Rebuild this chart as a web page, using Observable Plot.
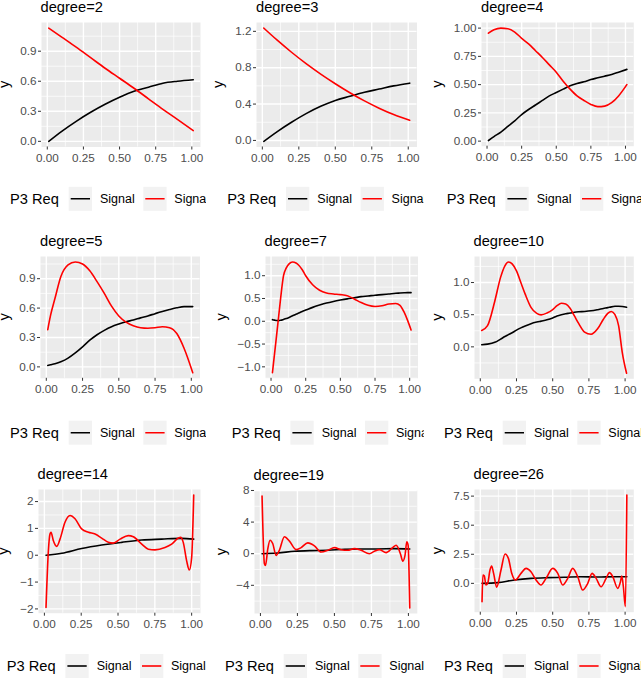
<!DOCTYPE html>
<html><head><meta charset="utf-8">
<script src="https://cdn.jsdelivr.net/npm/d3@7"></script>
<script src="https://cdn.jsdelivr.net/npm/@observablehq/plot@0.6"></script>
<style>
body{margin:0;background:#fff;}
#root{position:relative;width:641px;height:679px;overflow:hidden;background:#fff;font-family:"Liberation Sans",Arial,sans-serif;}
#root svg.plot-panel{position:absolute;}
</style></head>
<body><div id="root"></div>
<script>
// ---------- shared axis data ----------
const xTicks = [0, 0.25, 0.5, 0.75, 1];
const xTickLabels = ["0.00", "0.25", "0.50", "0.75", "1.00"];
const xMinor = [0.125, 0.375, 0.625, 0.875];
const xExtent = [0.01, 1.01];
const legendTitle = "P3 Req";
const seriesNames = ["Signal", "Signal"];
const seriesColors = ["#000000", "#FF0000"];

// ---------- degree = 2 ----------
const x2 = [0.01, 0.1, 0.2, 0.3, 0.4, 0.5, 0.6, 0.7, 0.8, 0.9, 1.01];
const black2 = [0, 0.1, 0.2, 0.29, 0.37, 0.44, 0.5, 0.54, 0.58, 0.6, 0.615];
const red2 = [1.13, 1.04, 0.94, 0.835, 0.73, 0.63, 0.53, 0.425, 0.32, 0.22, 0.107];
const yTicks2 = [0, 0.3, 0.6, 0.9];
const yLabels2 = ["0.0", "0.3", "0.6", "0.9"];
const yMinor2 = [0.15, 0.45, 0.75, 1.05];

// ---------- degree = 3 ----------
const x3 = [0.01, 0.1, 0.2, 0.3, 0.4, 0.5, 0.6, 0.7, 0.8, 0.9, 1.01];
const black3 = [-0.01, 0.095, 0.2, 0.295, 0.375, 0.44, 0.485, 0.53, 0.565, 0.6, 0.63];
const red3 = [1.235, 1.105, 0.97, 0.845, 0.73, 0.624, 0.525, 0.435, 0.355, 0.285, 0.223];
const yTicks3 = [0, 0.4, 0.8, 1.2];
const yLabels3 = ["0.0", "0.4", "0.8", "1.2"];
const yMinor3 = [0.2, 0.6, 1.0];

// ---------- degree = 4 ----------
const x4 = [0.01, 0.05, 0.1, 0.15, 0.2, 0.25, 0.3, 0.35, 0.4, 0.45, 0.5, 0.55, 0.6, 0.65, 0.7, 0.75, 0.8, 0.85, 0.9, 0.95, 1.01];
const black4 = [0.005, 0.04, 0.08, 0.13, 0.18, 0.235, 0.28, 0.32, 0.36, 0.4, 0.43, 0.46, 0.49, 0.51, 0.525, 0.545, 0.56, 0.575, 0.59, 0.61, 0.635];
const red4 = [0.955, 0.985, 1.0, 0.995, 0.965, 0.91, 0.86, 0.8, 0.74, 0.675, 0.61, 0.53, 0.46, 0.4, 0.36, 0.325, 0.305, 0.31, 0.34, 0.4, 0.5];
const yTicks4 = [0, 0.25, 0.5, 0.75, 1];
const yLabels4 = ["0.00", "0.25", "0.50", "0.75", "1.00"];
const yMinor4 = [0.125, 0.375, 0.625, 0.875];

// ---------- degree = 5 ----------
const x5 = [0.01, 0.03, 0.06, 0.1, 0.15, 0.2, 0.25, 0.3, 0.35, 0.4, 0.45, 0.5, 0.55, 0.6, 0.65, 0.7, 0.75, 0.8, 0.85, 0.9, 0.95, 1.01];
const black5 = [0.015, 0.022, 0.033, 0.053, 0.09, 0.143, 0.205, 0.272, 0.328, 0.373, 0.41, 0.437, 0.46, 0.478, 0.5, 0.52, 0.543, 0.565, 0.585, 0.603, 0.615, 0.615];
const red5 = [0.38, 0.53, 0.7, 0.92, 1.04, 1.07, 1.05, 0.98, 0.87, 0.75, 0.62, 0.52, 0.457, 0.42, 0.4, 0.395, 0.4, 0.41, 0.4, 0.34, 0.19, -0.06];
const yTicks5 = [0, 0.3, 0.6, 0.9];
const yLabels5 = ["0.0", "0.3", "0.6", "0.9"];
const yMinor5 = [0.15, 0.45, 0.75, 1.05];

// ---------- degree = 7 ----------
const x7 = [0.01, 0.025, 0.04, 0.055, 0.07, 0.09, 0.11, 0.13, 0.155, 0.18, 0.2, 0.225, 0.25, 0.3, 0.35, 0.4, 0.45, 0.5, 0.55, 0.6, 0.65, 0.7, 0.75, 0.8, 0.85, 0.9, 0.93, 0.96, 0.985, 1.01];
const black7 = [0.036, 0.025, 0.016, 0.015, 0.022, 0.04, 0.06, 0.085, 0.12, 0.155, 0.18, 0.215, 0.245, 0.305, 0.355, 0.4, 0.435, 0.465, 0.492, 0.515, 0.54, 0.555, 0.572, 0.585, 0.6, 0.615, 0.62, 0.625, 0.628, 0.628];
const red7 = [-1.13, -0.72, -0.31, 0.11, 0.53, 1.0, 1.17, 1.26, 1.3, 1.28, 1.23, 1.13, 1.0, 0.8, 0.68, 0.62, 0.6, 0.585, 0.56, 0.49, 0.41, 0.35, 0.325, 0.34, 0.38, 0.39, 0.35, 0.2, 0.02, -0.19];
const yTicks7 = [-1, -0.5, 0, 0.5, 1];
const yLabels7 = ["\u22121.0", "\u22120.5", "0.0", "0.5", "1.0"];
const yMinor7 = [-1.25, -0.75, -0.25, 0.25, 0.75, 1.25];

// ---------- degree = 10 ----------
const x10 = [0.01, 0.05, 0.1, 0.14, 0.17, 0.195, 0.22, 0.25, 0.28, 0.31, 0.35, 0.39, 0.42, 0.46, 0.5, 0.53, 0.56, 0.59, 0.62, 0.65, 0.68, 0.72, 0.765, 0.81, 0.85, 0.88, 0.905, 0.93, 0.955, 0.98, 1.01];
const black10 = [0.033, 0.042, 0.07, 0.12, 0.16, 0.19, 0.22, 0.26, 0.295, 0.325, 0.36, 0.385, 0.4, 0.42, 0.45, 0.48, 0.5, 0.515, 0.525, 0.538, 0.545, 0.55, 0.56, 0.578, 0.597, 0.61, 0.622, 0.63, 0.632, 0.628, 0.615];
const red10 = [0.255, 0.33, 0.71, 1.08, 1.26, 1.318, 1.29, 1.18, 1.0, 0.82, 0.615, 0.52, 0.497, 0.525, 0.58, 0.64, 0.677, 0.665, 0.6, 0.48, 0.36, 0.23, 0.195, 0.28, 0.43, 0.52, 0.55, 0.5, 0.33, -0.08, -0.41];
const yTicks10 = [0, 0.5, 1];
const yLabels10 = ["0.0", "0.5", "1.0"];
const yMinor10 = [-0.25, 0.25, 0.75, 1.25];

// ---------- degree = 14 ----------
const xRed14 = [0.011, 0.027, 0.038, 0.045, 0.061, 0.084, 0.106, 0.14, 0.174, 0.208, 0.253, 0.299, 0.344, 0.389, 0.434, 0.468, 0.514, 0.57, 0.604, 0.661, 0.706, 0.751, 0.819, 0.864, 0.91, 0.925, 0.943, 0.966, 0.984, 1.0, 1.014];
const red14 = [-1.95, 0.16, 0.79, 0.855, 0.54, 0.33, 0.6, 1.23, 1.48, 1.36, 0.98, 0.855, 0.79, 0.64, 0.48, 0.45, 0.6, 0.73, 0.69, 0.415, 0.226, 0.2, 0.29, 0.415, 0.64, 0.667, 0.48, -0.21, -0.55, -0.09, 2.24];
const xBlack14 = [0.011, 0.118, 0.253, 0.389, 0.525, 0.661, 0.796, 0.932, 1.014];
const black14 = [0, 0.075, 0.25, 0.38, 0.48, 0.566, 0.6, 0.63, 0.6];
const yTicks14 = [-2, -1, 0, 1, 2];
const yLabels14 = ["\u22122", "\u22121", "0", "1", "2"];
const yMinor14 = [-1.5, -0.5, 0.5, 1.5];

// ---------- degree = 19 ----------
const xRed19 = [0.011, 0.027, 0.034, 0.05, 0.065, 0.083, 0.106, 0.128, 0.162, 0.196, 0.241, 0.275, 0.32, 0.365, 0.41, 0.455, 0.5, 0.545, 0.59, 0.635, 0.68, 0.736, 0.77, 0.804, 0.849, 0.894, 0.917, 0.946, 0.962, 0.977, 0.989, 0.998, 1.009];
const red19 = [7.29, -1.29, -1.5, 0.64, 1.71, 1.29, -0.21, 0.43, 2.14, 1.59, 0.51, 0.77, 1.37, 0.99, 0.21, 0.43, 0.77, 0.51, 0.43, 0.64, 0.43, 0.0, 0.3, 0.51, 0.13, 0.77, 1.07, 0.0, -0.94, -0.21, 1.5, 1.07, -6.86];
const xBlack19 = [0.011, 0.117, 0.23, 0.342, 0.455, 0.568, 0.68, 0.793, 0.905, 1.009];
const black19 = [0, 0.09, 0.3, 0.39, 0.43, 0.56, 0.6, 0.6, 0.64, 0.6];
const yTicks19 = [-4, 0, 4, 8];
const yLabels19 = ["\u22124", "0", "4", "8"];
const yMinor19 = [-6, -2, 2, 6];

// ---------- degree = 26 ----------
const xRed26 = [0.012, 0.018, 0.028, 0.039, 0.051, 0.067, 0.078, 0.092, 0.113, 0.143, 0.171, 0.194, 0.217, 0.242, 0.281, 0.316, 0.35, 0.385, 0.419, 0.454, 0.5, 0.535, 0.569, 0.604, 0.638, 0.673, 0.707, 0.742, 0.772, 0.8, 0.834, 0.869, 0.892, 0.915, 0.949, 0.968, 0.977, 0.988, 1.002, 1.012];
const red26 = [-1.57, 0.72, 0.63, -0.14, 0.0, 1.15, 1.49, 0.86, -0.33, 1.15, 2.52, 2.15, 0.86, 0.29, 0.86, 1.29, 1.0, 0.29, -0.14, 0.43, 1.29, 0.86, -0.14, 0.43, 1.29, 0.57, -0.57, 0.0, 0.86, 0.43, -0.29, 0.43, 0.92, 0.57, -0.43, 0.14, 0.63, -0.29, -2.0, 7.59];
const xBlack26 = [0.012, 0.12, 0.235, 0.35, 0.465, 0.58, 0.695, 0.81, 0.925, 1.012];
const black26 = [0, 0.06, 0.29, 0.43, 0.49, 0.52, 0.57, 0.54, 0.57, 0.57];
const yTicks26 = [0, 2.5, 5, 7.5];
const yLabels26 = ["0.0", "2.5", "5.0", "7.5"];
const yMinor26 = [-1.25, 1.25, 3.75, 6.25];

// ---------- panel definitions (data) ----------
const panels = [
  {deg: 2,  xb: x2,  black: black2,  xr: x2,  red: red2,  yTicks: yTicks2,  yLabels: yLabels2,  yMinor: yMinor2},
  {deg: 3,  xb: x3,  black: black3,  xr: x3,  red: red3,  yTicks: yTicks3,  yLabels: yLabels3,  yMinor: yMinor3},
  {deg: 4,  xb: x4,  black: black4,  xr: x4,  red: red4,  yTicks: yTicks4,  yLabels: yLabels4,  yMinor: yMinor4},
  {deg: 5,  xb: x5,  black: black5,  xr: x5,  red: red5,  yTicks: yTicks5,  yLabels: yLabels5,  yMinor: yMinor5},
  {deg: 7,  xb: x7,  black: black7,  xr: x7,  red: red7,  yTicks: yTicks7,  yLabels: yLabels7,  yMinor: yMinor7},
  {deg: 10, xb: x10, black: black10, xr: x10, red: red10, yTicks: yTicks10, yLabels: yLabels10, yMinor: yMinor10},
  {deg: 14, xb: xBlack14, black: black14, xr: xRed14, red: red14, yTicks: yTicks14, yLabels: yLabels14, yMinor: yMinor14},
  {deg: 19, xb: xBlack19, black: black19, xr: xRed19, red: red19, yTicks: yTicks19, yLabels: yLabels19, yMinor: yMinor19},
  {deg: 26, xb: xBlack26, black: black26, xr: xRed26, red: red26, yTicks: yTicks26, yLabels: yLabels26, yMinor: yMinor26}
];

// ---------- layout (positions in page pixels) ----------
const layout = [
  {L: 40.5,  R: 199.5, T: 22,    B: 146.5, yt: 7,     lx: 10,    ly: 198.8, clip: [0, 206]},
  {L: 256,   R: 416.5, T: 22,    B: 146.5, yt: 220.8, lx: 227.3, ly: 198.8, clip: [213, 423.8]},
  {L: 481,   R: 633.3, T: 22.3,  B: 146,   yt: 440,   lx: 446.7, ly: 198.8, clip: [427, 641]},
  {L: 40,    R: 199.5, T: 256,   B: 377.8, yt: 7,     lx: 10,    ly: 432.7, clip: [0, 206]},
  {L: 264.5, R: 417,   T: 256,   B: 377.8, yt: 223.3, lx: 231.7, ly: 432.7, clip: [213, 423.8]},
  {L: 473.5, R: 632.8, T: 256,   B: 378.3, yt: 440,   lx: 444,   ly: 432.7, clip: [427, 641]},
  {L: 37.5,  R: 199.5, T: 489.3, B: 613,   yt: 6,     lx: 6.7,   ly: 666,   clip: [0, 208]},
  {L: 253.5, R: 416.3, T: 490,   B: 613,   yt: 223.3, lx: 225,   ly: 666,   clip: [213, 425]},
  {L: 473.5, R: 632.8, T: 489.3, B: 612,   yt: 440,   lx: 444,   ly: 666,   clip: [427, 641]}
];

const FONT = "'Liberation Sans', Arial, Helvetica, sans-serif";
const root = document.getElementById("root");
const xDomain = [xExtent[0] - 0.05 * (xExtent[1] - xExtent[0]), xExtent[1] + 0.05 * (xExtent[1] - xExtent[0])];
const xLabMap = new Map(xTicks.map((t, i) => [t, xTickLabels[i]]));

panels.forEach((p, i) => {
  const g = layout[i];
  const mL = 46, mR = 8, mT = 4, mB = 26;
  const w = g.R - g.L, h = g.B - g.T;
  const all = p.black.concat(p.red);
  const lo = d3.min(all), hi = d3.max(all), pad = 0.05 * (hi - lo);
  const yDomain = [lo - pad, hi + pad];
  const yMinor = p.yMinor.filter(v => v > yDomain[0] && v < yDomain[1]);
  const yLabMap = new Map(p.yTicks.map((t, k) => [t, p.yLabels[k]]));
  const blackData = p.xb.map((x, k) => ({x, y: p.black[k]}));
  const redData = p.xr.map((x, k) => ({x, y: p.red[k]}));
  const svg = Plot.plot({
    width: w + mL + mR,
    height: h + mT + mB,
    marginLeft: mL, marginRight: mR, marginTop: mT, marginBottom: mB,
    style: {background: "transparent", fontFamily: FONT, overflow: "visible"},
    x: {domain: xDomain},
    y: {domain: yDomain},
    marks: [
      Plot.frame({fill: "#EBEBEB", stroke: "none"}),
      Plot.ruleX(xMinor, {stroke: "#FFFFFF", strokeWidth: 0.7, strokeOpacity: 1}),
      Plot.ruleY(yMinor, {stroke: "#FFFFFF", strokeWidth: 0.7, strokeOpacity: 1}),
      Plot.ruleX(xTicks, {stroke: "#FFFFFF", strokeWidth: 1.4, strokeOpacity: 1}),
      Plot.ruleY(p.yTicks, {stroke: "#FFFFFF", strokeWidth: 1.4, strokeOpacity: 1}),
      Plot.line(blackData, {x: "x", y: "y", stroke: seriesColors[0], strokeWidth: 1.6, curve: "monotone-x"}),
      Plot.line(redData, {x: "x", y: "y", stroke: seriesColors[1], strokeWidth: 1.6, curve: "monotone-x"}),
      Plot.axisX({ticks: xTicks, tickFormat: d => xLabMap.get(d), tickSize: 3, tickPadding: 3.5, fontSize: 11.7, fill: "#4D4D4D", stroke: "#333333", label: null}),
      Plot.axisY({ticks: p.yTicks, tickFormat: d => yLabMap.get(d), tickSize: 3, tickPadding: 2, fontSize: 11.7, fill: "#4D4D4D", stroke: "#333333", label: null})
    ]
  });
  svg.classList.add("plot-panel");
  svg.style.left = (g.L - mL) + "px";
  svg.style.top = (g.T - mT) + "px";
  root.appendChild(svg);
});

// ---------- overlay: titles, y axis titles, legends ----------
const NS = "http://www.w3.org/2000/svg";
const ov = document.createElementNS(NS, "svg");
ov.setAttribute("width", 641);
ov.setAttribute("height", 679);
ov.style.position = "absolute";
ov.style.left = "0px";
ov.style.top = "0px";
ov.style.fontFamily = FONT;
root.appendChild(ov);
const defs = document.createElementNS(NS, "defs");
ov.appendChild(defs);

function el(parent, tag, attrs, text) {
  const e = document.createElementNS(NS, tag);
  for (const k in attrs) e.setAttribute(k, attrs[k]);
  if (text != null) e.textContent = text;
  parent.appendChild(e);
  return e;
}

panels.forEach((p, i) => {
  const g = layout[i];
  // facet title
  el(ov, "text", {x: g.L, y: g.T - 10.3, "font-size": 14.67, fill: "#000"}, "degree=" + p.deg);
  // y axis title
  const cy = (g.T + g.B) / 2;
  el(ov, "text", {transform: `translate(${g.yt + 2.3},${cy}) rotate(-90)`, "text-anchor": "middle", "font-size": 14.67, fill: "#000"}, "y");
  // legend
  const cp = el(defs, "clipPath", {id: "clip" + i});
  el(cp, "rect", {x: g.clip[0], y: g.ly - 20, width: g.clip[1] - g.clip[0], height: 40});
  const lg = el(ov, "g", {"clip-path": `url(#clip${i})`});
  el(lg, "text", {x: g.lx, y: g.ly + 5.3, "font-size": 14.67, fill: "#000"}, legendTitle);
  const keyX = [g.lx + 58.7, g.lx + 133.3];
  const txtX = [g.lx + 90, g.lx + 164.3];
  for (let s = 0; s < 2; s++) {
    el(lg, "rect", {x: keyX[s], y: g.ly - 12, width: 23.3, height: 24, fill: "#F2F2F2"});
    el(lg, "line", {x1: keyX[s] + 2, x2: keyX[s] + 21.3, y1: g.ly, y2: g.ly, stroke: seriesColors[s], "stroke-width": 1.6});
    el(lg, "text", {x: txtX[s], y: g.ly + 4.4, "font-size": 12.5, fill: "#000"}, seriesNames[s]);
  }
});
</script>
</body></html>
